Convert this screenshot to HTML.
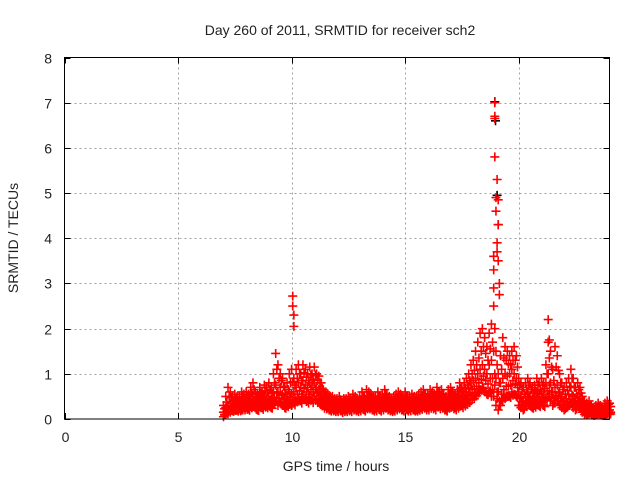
<!DOCTYPE html>
<html><head><meta charset="utf-8"><style>
body{margin:0;background:#fff}
svg text{font-family:"Liberation Sans",sans-serif;font-size:14px;fill:#222}
</style></head><body>
<svg id="chart" width="640" height="480" xmlns="http://www.w3.org/2000/svg">
<rect width="640" height="480" fill="#fff"/>
<text x="340" y="35" text-anchor="middle">Day 260 of 2011, SRMTID for receiver sch2</text>
<text transform="translate(18,238) rotate(-90)" text-anchor="middle">SRMTID / TECUs</text>
<text x="336" y="471" text-anchor="middle">GPS time / hours</text>
<g id="grid"></g>
<g id="ticks"></g>
<g id="marks"></g>
<rect x="64.5" y="57.5" width="545" height="361.5" fill="none" stroke="#000" stroke-width="1"/>
</svg>
<script>
const xTicks=[0,5,10,15,20];
const yTicks=[0,1,2,3,4,5,6,7,8];
const startHour=7.0, stepHour=0.1;
const low=[0.05,0.1,0.12,0.15,0.18,0.2,0.2,0.22,0.2,0.25,
0.25,0.22,0.28,0.3,0.25,0.2,0.3,0.25,0.3,0.28,
0.3,0.25,0.35,0.4,0.3,0.35,0.3,0.25,0.3,0.35,
0.3,0.35,0.4,0.45,0.4,0.5,0.45,0.4,0.5,0.45,
0.5,0.45,0.4,0.35,0.3,0.3,0.25,0.2,0.22,0.2,
0.2,0.22,0.18,0.2,0.2,0.22,0.2,0.25,0.22,0.2,
0.22,0.25,0.2,0.25,0.3,0.25,0.2,0.22,0.25,0.2,
0.25,0.3,0.25,0.22,0.2,0.2,0.25,0.3,0.25,0.2,
0.25,0.2,0.22,0.25,0.2,0.2,0.22,0.25,0.3,0.25,
0.25,0.3,0.3,0.25,0.35,0.3,0.3,0.25,0.2,0.3,
0.35,0.3,0.25,0.3,0.35,0.3,0.35,0.4,0.45,0.5,
0.5,0.55,0.6,0.65,0.7,0.6,0.55,0.6,0.5,0.5,
0.3,0.2,0.3,0.4,0.45,0.5,0.5,0.6,0.55,0.5,
0.3,0.25,0.2,0.3,0.35,0.3,0.25,0.3,0.35,0.3,
0.35,0.3,0.45,0.5,0.4,0.3,0.35,0.4,0.3,0.25,
0.2,0.25,0.3,0.35,0.25,0.2,0.3,0.25,0.15,0.1,
0.1,0.12,0.1,0.08,0.1,0.12,0.1,0.08,0.1,0.12,0.1];
const mid=[0.15,0.25,0.3,0.35,0.3,0.35,0.3,0.3,0.4,0.35,
0.4,0.35,0.45,0.5,0.4,0.35,0.45,0.4,0.5,0.45,
0.5,0.45,0.6,0.75,0.6,0.7,0.55,0.45,0.5,0.6,
0.55,0.6,0.7,0.8,0.7,0.85,0.75,0.7,0.8,0.75,
0.8,0.7,0.65,0.55,0.45,0.45,0.4,0.35,0.35,0.3,
0.3,0.35,0.3,0.32,0.3,0.35,0.3,0.38,0.35,0.3,
0.35,0.4,0.35,0.4,0.45,0.4,0.35,0.35,0.4,0.35,
0.4,0.45,0.4,0.35,0.3,0.35,0.4,0.45,0.4,0.35,
0.4,0.35,0.35,0.4,0.35,0.35,0.38,0.4,0.45,0.4,
0.4,0.45,0.45,0.4,0.5,0.45,0.45,0.4,0.35,0.45,
0.5,0.45,0.4,0.45,0.55,0.5,0.55,0.6,0.7,0.8,
0.85,0.9,1.0,1.1,1.2,1.1,1.0,1.2,1.3,1.5,
0.9,0.6,0.8,0.9,1.0,0.95,1.0,1.1,1.0,0.9,
0.6,0.5,0.4,0.5,0.6,0.5,0.45,0.5,0.6,0.5,
0.6,0.55,0.8,1.0,0.8,0.6,0.7,0.75,0.6,0.5,
0.4,0.45,0.55,0.7,0.5,0.4,0.5,0.45,0.3,0.2,
0.2,0.22,0.2,0.15,0.2,0.22,0.18,0.15,0.2,0.25,0.2];
const high=[0.3,0.5,0.7,0.6,0.5,0.55,0.5,0.5,0.6,0.55,
0.6,0.55,0.7,0.8,0.6,0.55,0.7,0.6,0.75,0.7,
0.8,0.7,1.0,1.45,1.2,1.0,0.9,0.7,0.8,1.0,
1.1,0.9,1.1,1.2,1.0,1.2,1.1,1.0,1.15,1.0,
1.15,1.0,0.95,0.8,0.65,0.6,0.55,0.5,0.5,0.45,
0.45,0.5,0.4,0.45,0.45,0.5,0.45,0.55,0.5,0.45,
0.5,0.6,0.5,0.65,0.6,0.55,0.5,0.5,0.6,0.5,
0.55,0.65,0.55,0.5,0.45,0.5,0.55,0.6,0.55,0.5,
0.6,0.5,0.5,0.55,0.5,0.5,0.55,0.6,0.65,0.55,
0.55,0.65,0.6,0.55,0.7,0.6,0.65,0.55,0.5,0.65,
0.7,0.6,0.55,0.65,0.8,0.7,0.8,0.9,1.0,1.2,
1.3,1.5,1.7,1.9,2.0,1.8,1.6,1.9,2.1,2.5,
1.5,1.0,1.4,1.8,1.6,1.5,1.4,1.5,1.6,1.4,
0.9,0.8,0.7,0.8,0.9,0.8,0.7,0.75,0.9,0.8,
0.9,0.8,1.2,1.7,1.5,1.1,1.6,1.4,1.0,0.8,
0.7,0.8,0.9,1.1,0.9,0.7,0.8,0.7,0.5,0.4,
0.35,0.4,0.3,0.25,0.3,0.35,0.3,0.25,0.35,0.4,0.35];
const spikeHours=[10.05,10.05,10.1,10.1,18.95,18.95,18.95,18.95,19.0,19.0,19.05,19.05,19.05,19.1,19.1,19.1,18.9,18.9,18.9,19.15,19.15,21.3,21.35];
const spikeVals=[2.72,2.5,2.3,2.05,7.0,6.7,6.65,5.8,4.9,4.6,5.3,3.9,3.7,4.85,4.3,3.5,3.6,3.3,2.9,3.0,2.75,2.2,1.75];
const blackHours=[18.95,18.98,19.05,19.1];
const blackVals=[7.02,6.6,4.95,4.3];

const X0=64.5,X1=609.5,Y0=419,Y1=57.5;
const xs=h=>X0+(h/24)*(X1-X0);
const ys=v=>Y0-(v/8)*(Y0-Y1);
const NS="http://www.w3.org/2000/svg";
const grid=document.getElementById('grid'),ticks=document.getElementById('ticks'),marks=document.getElementById('marks');
function line(g,x1,y1,x2,y2,st,dash){const l=document.createElementNS(NS,'line');l.setAttribute('x1',x1);l.setAttribute('y1',y1);l.setAttribute('x2',x2);l.setAttribute('y2',y2);l.setAttribute('stroke',st);if(dash)l.setAttribute('stroke-dasharray',dash);g.appendChild(l);return l;}
xTicks.forEach(t=>{const x=Math.round(xs(t))+0.5;
 if(t>0){const gl=line(grid,x,Y1,x,Y0,'#a0a0a0','2,3');}
 line(ticks,x,Y0,x,Y0-6,'#000');line(ticks,x,Y1,x,Y1+6,'#000');
 const tx=document.createElementNS(NS,'text');tx.setAttribute('x',x);tx.setAttribute('y',442);tx.setAttribute('text-anchor','middle');tx.textContent=t;
 
 
 ticks.appendChild(tx);});
yTicks.forEach(t=>{const y=Math.round(ys(t))+0.5;
 if(t>0&&t<8){const gl=line(grid,X0,y,X1,y,'#a0a0a0','2,3');}
 line(ticks,X0,y,X0+6,y,'#000');line(ticks,X1,y,X1-6,y,'#000');
 const tx=document.createElementNS(NS,'text');tx.setAttribute('x',52);tx.setAttribute('y',y+5);tx.setAttribute('text-anchor','end');tx.textContent=t;
 
 
 ticks.appendChild(tx);});
function plus(h,v,col){const x=xs(h),y=ys(v);const p=document.createElementNS(NS,'path');
 p.setAttribute('d',`M${x-4.5},${y}H${x+4.5}M${x},${y-4.5}V${y+4.5}`);p.setAttribute('stroke',col);p.setAttribute('stroke-width','1.6');
 
 
 marks.appendChild(p);}
blackHours.forEach((h,i)=>plus(h,blackVals[i],'#000'));
[low,mid,high].forEach(arr=>arr.forEach((v,i)=>{const h=startHour+i*stepHour;plus(h,v,'#f00');plus(h+0.05,(v+(arr===low?mid:arr===mid?high:low)[i])/2*(arr===high?0.5:1),'#f00');}));
spikeHours.forEach((h,i)=>plus(h,spikeVals[i],'#f00'));
</script>
</body></html>
